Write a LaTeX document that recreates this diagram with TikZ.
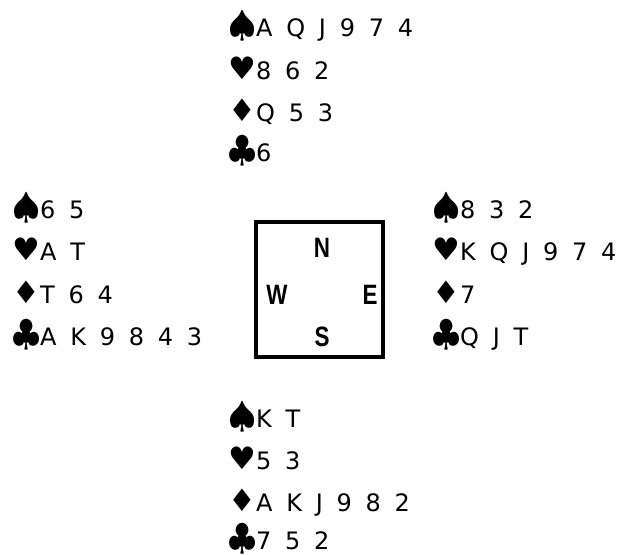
\documentclass[tikz,border=0pt]{standalone}
\usepackage{graphicx}
\usepackage{fontspec}
\setmainfont{DejaVu Sans}[WordSpace=1.8]
\newfontfamily\suitfont{DejaVu Sans}
\newfontfamily\dirfont{Liberation Sans}[FakeStretch=0.8]
\begin{document}
\begin{tikzpicture}[x=1pt,y=-1pt,
  hand/.style={anchor=base west,inner sep=0pt,font=\fontsize{24}{24}\selectfont},
  dir/.style={inner sep=0pt,font=\dirfont\bfseries\fontsize{28}{28}\selectfont},
  table/.style={draw=black,line width=4.5pt}]
\useasboundingbox (0,0) rectangle (620,554);
\newcommand{\suitbox}[1]{\makebox[28pt][l]{#1}}
\newcommand{\Sp}{\suitbox{\scalebox{1.45}{$\spadesuit$}}}
\newcommand{\Ht}{\suitbox{\suitfont\fontsize{31}{31}\selectfont ♥}}
\newcommand{\Dm}{\suitbox{\suitfont\fontsize{31}{31}\selectfont ♦}}
\newcommand{\Cl}{\suitbox{\scalebox{1.45}{$\clubsuit$}}}
% North
\node[hand] (n1) at (228,36) {\Sp A Q J 9 7 4};
\node[hand] (n2) at (228,79) {\Ht 8 6 2};
\node[hand] (n3) at (228,121) {\Dm Q 5 3};
\node[hand] (n4) at (228,161) {\Cl 6};
% West
\node[hand] (w1) at (12,218) {\Sp 6 5};
\node[hand] (w2) at (12,260) {\Ht A T};
\node[hand] (w3) at (12,303) {\Dm T 6 4};
\node[hand] (w4) at (12,345) {\Cl A K 9 8 4 3};
% East
\node[hand] (e1) at (432,218) {\Sp 8 3 2};
\node[hand] (e2) at (432,260) {\Ht K Q J 9 7 4};
\node[hand] (e3) at (432,303) {\Dm 7};
\node[hand] (e4) at (432,345) {\Cl Q J T};
% South
\node[hand] (s1) at (228,427) {\Sp K T};
\node[hand] (s2) at (228,469) {\Ht 5 3};
\node[hand] (s3) at (228,511) {\Dm A K J 9 8 2};
\node[hand] (s4) at (228,549) {\Cl 7 5 2};
% Table
\node[table,minimum width=127pt,minimum height=135pt,inner sep=0pt] (box) at (319.5,289.5) {};
\node[dir] (N) at (322,248) {N};
\node[dir] (W) at (277,295) {W};
\node[dir] (E) at (370,295) {E};
\node[dir] (S) at (322,337) {S};
\end{tikzpicture}
\end{document}
